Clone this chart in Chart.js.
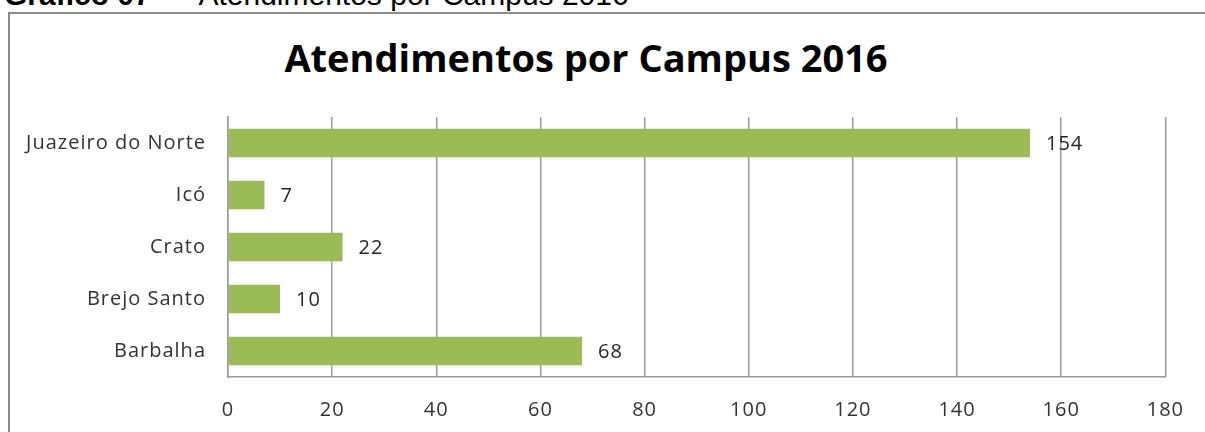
<!DOCTYPE html>
<html lang="pt-BR">
<head>
<meta charset="utf-8">
<title>Atendimentos por Campus 2016</title>
<script src="https://cdn.jsdelivr.net/npm/chart.js@4.4.1/dist/chart.umd.min.js"></script>
<style>
  html, body { margin: 0; padding: 0; background: #fff; overflow: hidden; }
  body { width: 1205px; height: 432px; position: relative; }
  #caption {
    position: absolute; left: 4px; top: -20px;
    font-family: "Liberation Sans", Arial, sans-serif; font-size: 30px; line-height: 30px;
    white-space: nowrap; color: #000;
  }
  #caption b { margin-right: 6px; }
  #frame {
    position: absolute; left: 8px; top: 12px; width: 1230px; height: 460px;
    border: 2px solid #8a8a8a; box-sizing: border-box;
  }
  #title {
    position: absolute; left: 0; width: 1172px; top: 38px; text-align: center;
    font-family: "Open Sans", sans-serif; font-weight: 700; font-size: 38px; line-height: 38px;
    color: #000; white-space: nowrap;
  }
  #wrap { position: absolute; left: 0; top: 0; width: 1205px; height: 432px; }
</style>
</head>
<body>
<div id="caption"><b>Gráfico 07</b> – &nbsp;Atendimentos por Campus 2016</div>
<div id="frame"></div>
<div id="title">Atendimentos por Campus 2016</div>
<div id="wrap"><canvas id="chart"></canvas></div>
<script>
// Campuses (top to bottom) and number of attendances in 2016
const campuses = ['Juazeiro do Norte', 'Icó', 'Crato', 'Brejo Santo', 'Barbalha'];
const atendimentos = [154, 7, 22, 10, 68];
// Value axis range and tick step
const axisMin = 0;
const axisMax = 180;
const axisStep = 20;

const labelFont = { family: '"Open Sans", sans-serif', size: 20 };
const labelSpacing = '1px';

// Slightly widened lettering for all canvas text
const spacedText = {
  id: 'spacedText',
  beforeUpdate(chart) { chart.ctx.letterSpacing = labelSpacing; },
  beforeDraw(chart) { chart.ctx.letterSpacing = labelSpacing; }
};

// Writes each bar's value just past its end
const valueLabels = {
  id: 'valueLabels',
  afterDatasetsDraw(chart) {
    const ctx = chart.ctx;
    const meta = chart.getDatasetMeta(0);
    const values = chart.data.datasets[0].data;
    ctx.save();
    ctx.letterSpacing = labelSpacing;
    ctx.font = `${labelFont.size}px ${labelFont.family}`;
    ctx.fillStyle = '#262626';
    ctx.textAlign = 'left';
    ctx.textBaseline = 'middle';
    meta.data.forEach((bar, i) => {
      ctx.fillText(String(values[i]), bar.x + 16, bar.y + 1);
    });
    ctx.restore();
  }
};

new Chart(document.getElementById('chart'), {
  type: 'bar',
  data: {
    labels: campuses,
    datasets: [{
      data: atendimentos,
      backgroundColor: '#9BBB59',
      borderWidth: 0,
      barPercentage: 0.55,
      categoryPercentage: 1.0
    }]
  },
  options: {
    indexAxis: 'y',
    responsive: true,
    maintainAspectRatio: false,
    animation: false,
    layout: { padding: { left: 0, top: 117, right: 37, bottom: 0 } },
    plugins: {
      legend: { display: false },
      title: { display: false },
      tooltip: { enabled: false }
    },
    scales: {
      x: {
        min: axisMin,
        max: axisMax,
        ticks: { stepSize: axisStep, font: labelFont, color: '#333', padding: 21, maxRotation: 0 },
        grid: { color: '#999', lineWidth: 1.5, drawTicks: false },
        border: { color: '#999', width: 1.5 },
        afterFit(scale) { scale.height = 55; }
      },
      y: {
        ticks: { font: labelFont, color: '#333', padding: 22 },
        grid: { display: false, drawTicks: false },
        border: { color: '#999', width: 1.5 },
        afterFit(scale) { scale.width = 228; }
      }
    }
  },
  plugins: [spacedText, valueLabels]
});
</script>
</body>
</html>
